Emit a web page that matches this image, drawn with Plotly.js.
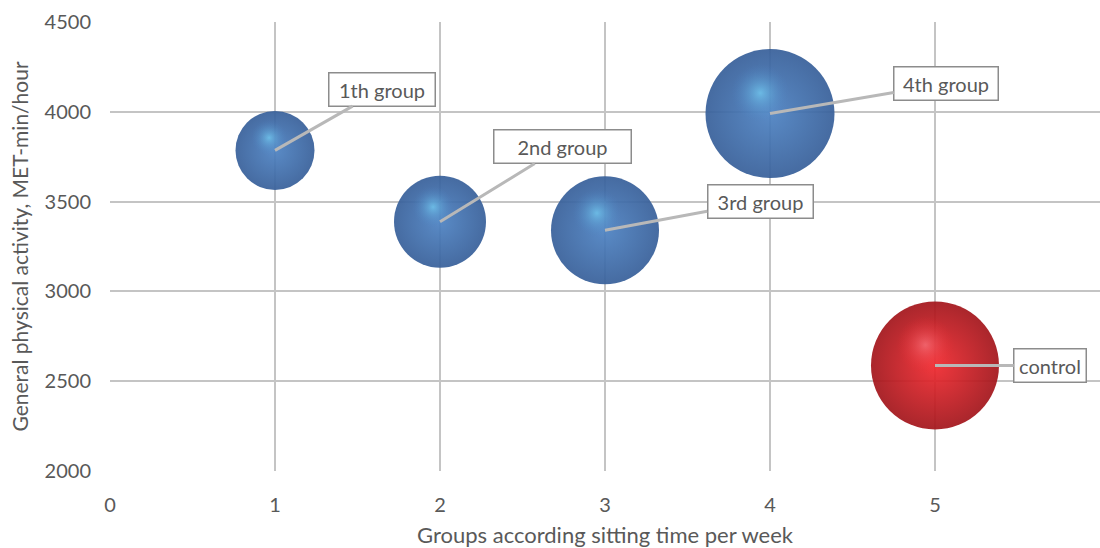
<!DOCTYPE html>
<html>
<head>
<meta charset="utf-8">
<script src="https://cdn.plot.ly/plotly-3.0.1.min.js"></script>
<style>html,body{margin:0;padding:0;background:#fff;}#chart{width:1100px;height:548px;}</style>
</head>
<body>
<div id="chart"></div>
<script>
// Data
const groupX = [1, 2, 3, 4, 5];
const activityY = [3785, 3388, 3340, 3990, 2588];
const bubbleSize = [79, 92, 108, 129, 128];
const groupLabels = ["1th group", "2nd group", "3rd group", "4th group", "control"];
const xTickVals = [0, 1, 2, 3, 4, 5];
const yTickVals = [2000, 2500, 3000, 3500, 4000, 4500];

// layout geometry
const W = 1100, H = 548, ML = 110, MR = 0, MT = 22, MB = 77;
const xRange = [0, 6], yRange = [2000, 4500];
const pxPerX = (W - ML - MR) / (xRange[1] - xRange[0]);
const pxPerY = (H - MT - MB) / (yRange[1] - yRange[0]);

const isControl = groupLabels.map(l => l === "control");
const baseColor = isControl.map(c => c ? '#a3161c' : '#38609a');
const centerColor = isControl.map(c => c ? '#f0292f' : '#4d82c2');
const hiColor = isControl.map(c => c ? 'rgba(255,130,140,0.85)' : 'rgba(120,215,250,0.95)');
const hiEdge = isControl.map(c => c ? 'rgba(240,41,47,0)' : 'rgba(77,130,194,0)');

// highlight offset derived from each bubble's radius
const hiX = groupX.map((x, i) => x - 0.15 * bubbleSize[i] / 2 / pxPerX);
const hiY = activityY.map((y, i) => y + 0.32 * bubbleSize[i] / 2 / pxPerY);
const hiSize = bubbleSize.map(s => s * 0.45);

const traces = [
  {
    type: 'scatter', mode: 'markers', x: groupX, y: activityY,
    marker: { size: bubbleSize, sizemode: 'diameter', color: baseColor,
      gradient: { type: 'radial', color: centerColor }, line: { width: 0 }, opacity: 0.93 },
    hoverinfo: 'x+y', showlegend: false
  },
  {
    type: 'scatter', mode: 'markers', x: hiX, y: hiY,
    marker: { size: hiSize, sizemode: 'diameter', color: hiEdge,
      gradient: { type: 'radial', color: hiColor }, line: { width: 0 } },
    hoverinfo: 'skip', showlegend: false
  }
];

// callout offsets (pixels) and box widths
const calloutAx = [107, 122, 155, 176, 115];
const calloutAy = [-61, -75, -29, -30, 0];
const boxW = [97, 128, 96, 95, 63];

const annotations = groupLabels.map((t, i) => ({
  x: groupX[i], y: activityY[i], xref: 'x', yref: 'y',
  text: t, showarrow: true, arrowhead: 0, arrowwidth: 3, arrowcolor: '#b8b8b8',
  ax: calloutAx[i], ay: calloutAy[i],
  bordercolor: '#8c8c8c', borderwidth: 1.5, borderpad: 4, bgcolor: '#ffffff',
  width: boxW[i], height: 24,
  font: { family: 'Lato, "Open Sans", sans-serif', size: 20, color: '#595959' }
}));

const layout = {
  width: W, height: H,
  margin: { l: ML, r: MR, t: MT, b: MB },
  paper_bgcolor: '#ffffff', plot_bgcolor: '#ffffff',
  font: { family: 'Lato, "Open Sans", sans-serif', color: '#595959' },
  xaxis: {
    range: xRange, tickvals: xTickVals, ticktext: xTickVals.map(String),
    showgrid: true, gridcolor: '#c4c4c4', gridwidth: 2,
    zeroline: false, showline: false, ticks: '', ticklabelstandoff: 20,
    tickfont: { size: 20, color: '#595959' },
    title: { text: 'Groups according sitting time per week', font: { size: 22, color: '#595959' }, standoff: 12 }
  },
  yaxis: {
    range: yRange, tickvals: yTickVals,
    showgrid: true, gridcolor: '#c4c4c4', gridwidth: 2,
    zeroline: false, showline: false, ticks: '', ticklabelstandoff: 18,
    tickfont: { size: 20, color: '#595959' },
    title: { text: 'General physical activity, MET-min/hour', font: { size: 21, color: '#595959' }, standoff: 10 }
  },
  annotations: annotations,
  showlegend: false
};

Plotly.newPlot('chart', traces, layout, { displayModeBar: false, staticPlot: true });
</script>
</body>
</html>
